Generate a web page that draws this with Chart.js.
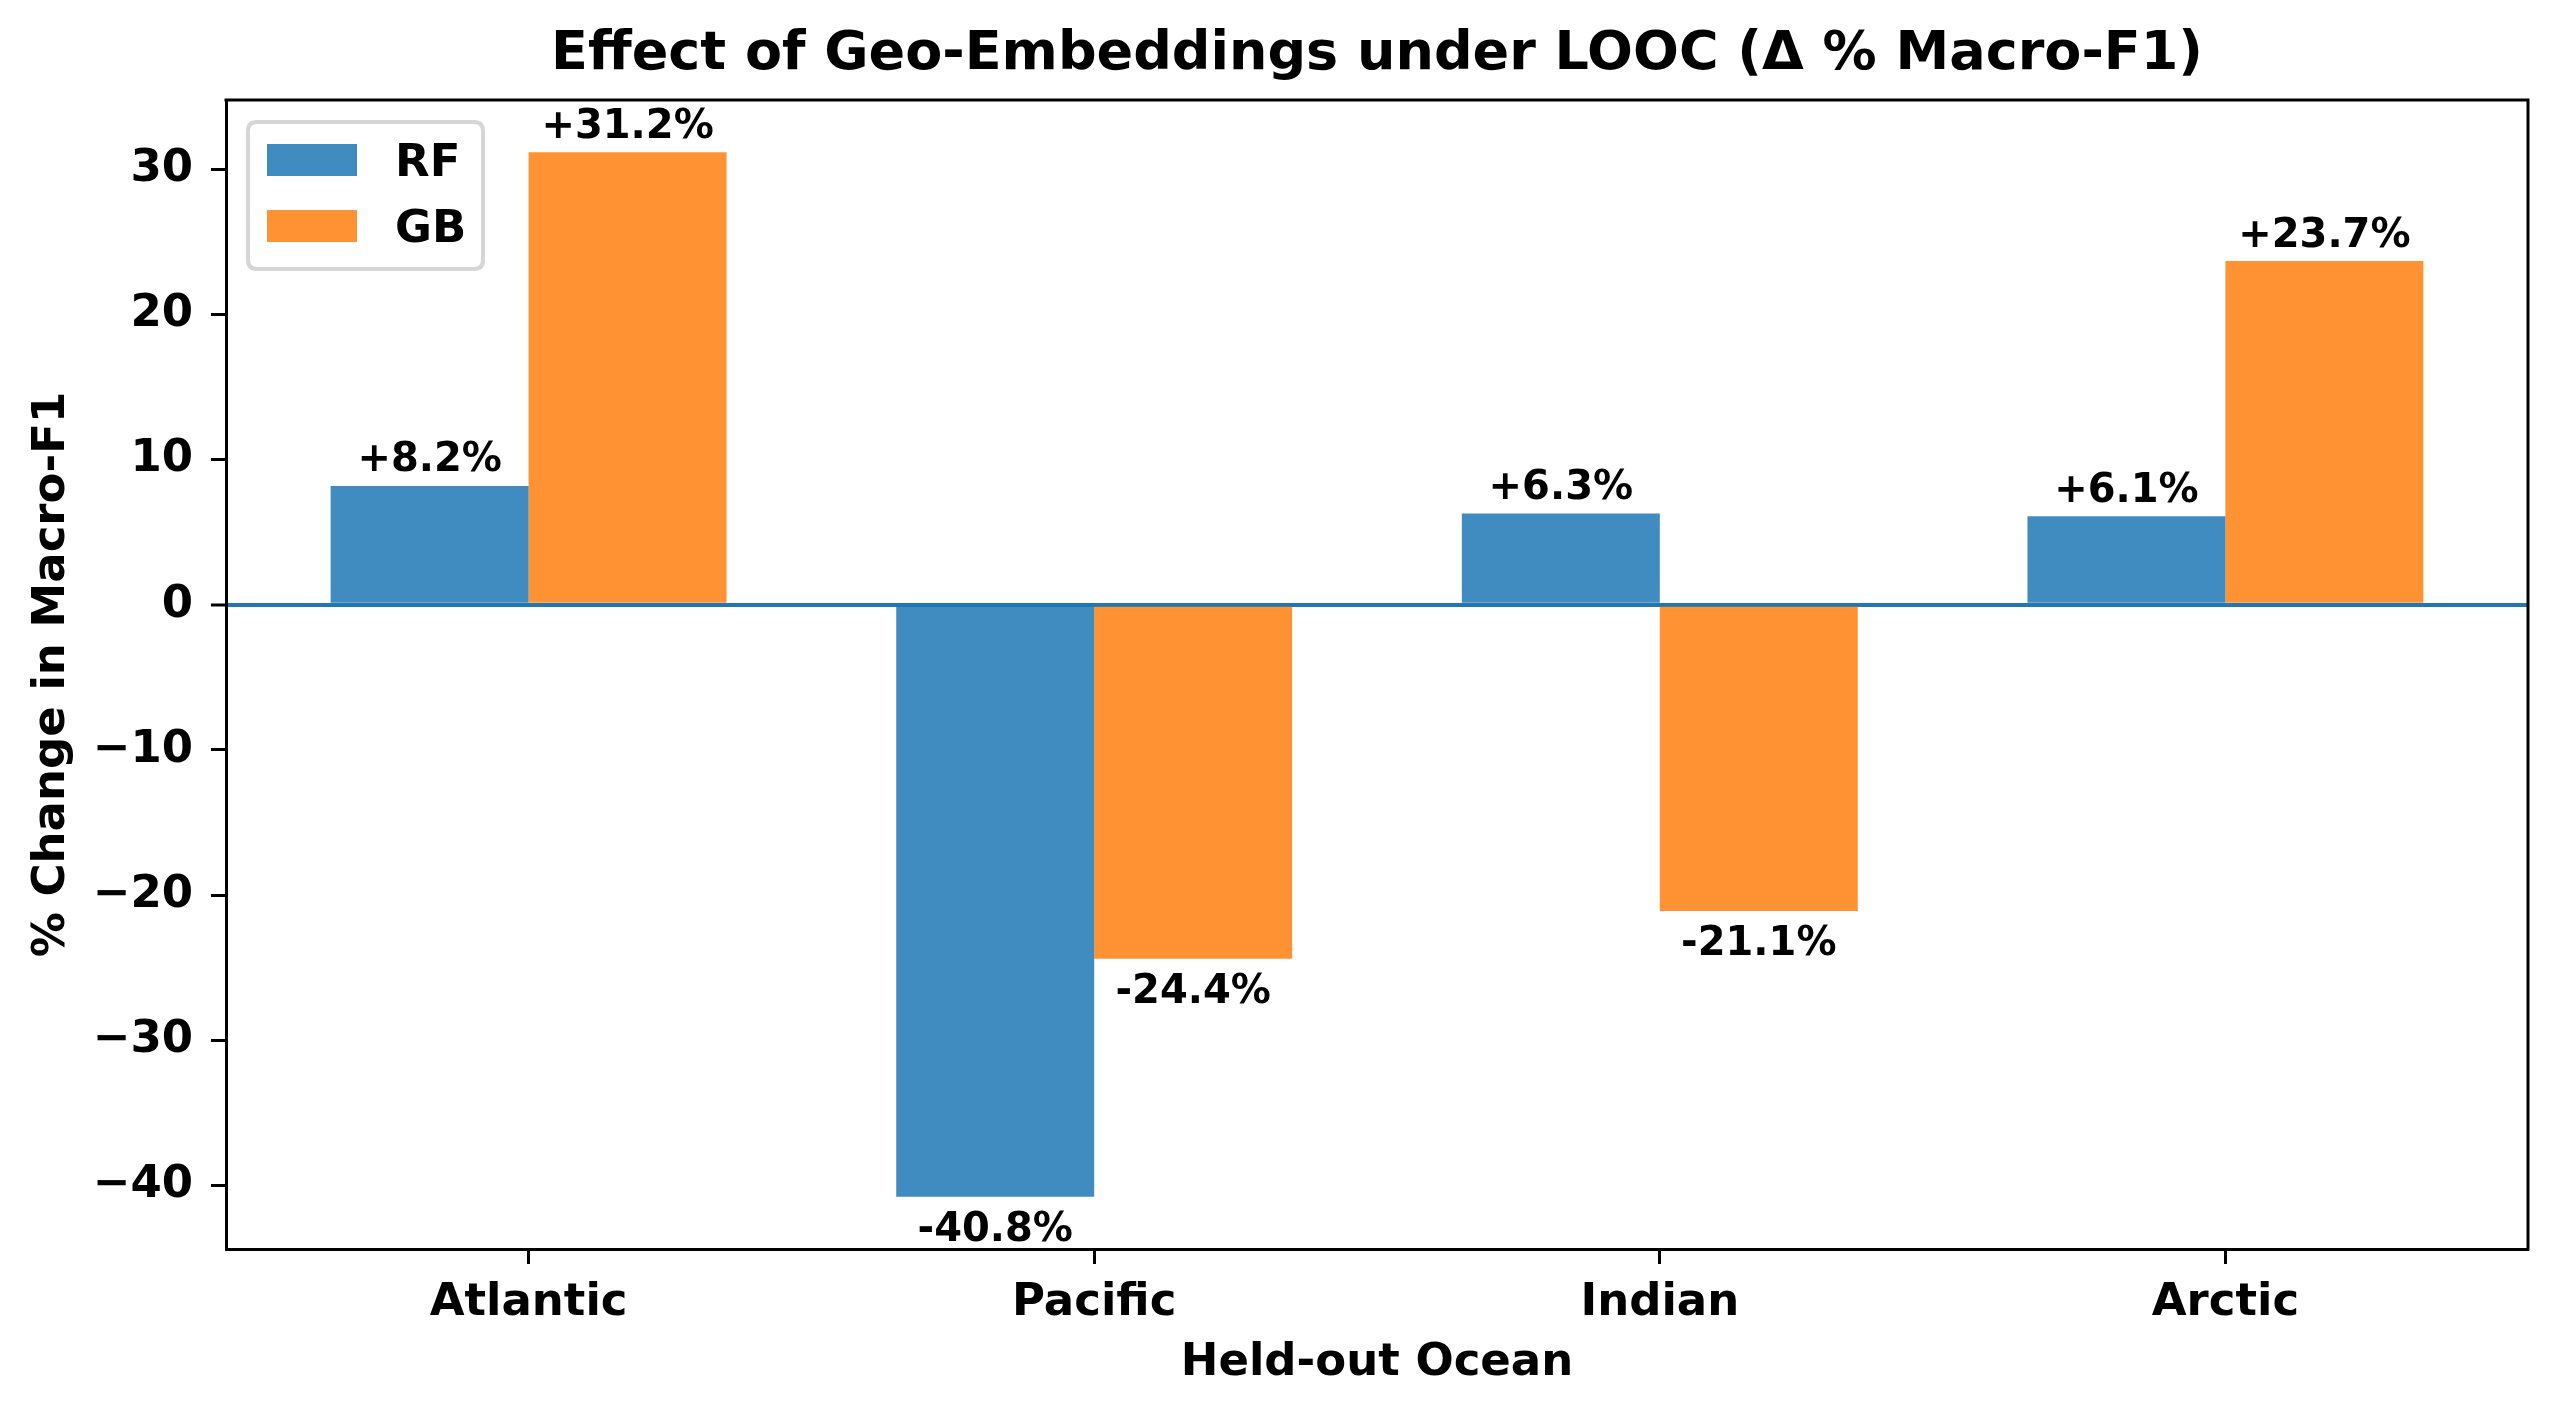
<!DOCTYPE html>
<html>
<head>
<meta charset="utf-8">
<script src="https://cdn.jsdelivr.net/npm/chart.js@4.4.1/dist/chart.umd.min.js"></script>
<style>
  html, body { margin: 0; padding: 0; background: #ffffff; }
  #c { display: block; }
</style>
</head>
<body>
<canvas id="c" width="2560" height="1419" style="width:2560px;height:1419px"></canvas>
<script>
// ---- data ----
const categories = ['Atlantic', 'Pacific', 'Indian', 'Arctic'];
const seriesNames = ['RF', 'GB'];
const rfValues = [8.2, -40.8, 6.3, 6.1];
const gbValues = [31.2, -24.4, -21.1, 23.7];
const yTickValues = [-40, -30, -20, -10, 0, 10, 20, 30];
const titleText = 'Effect of Geo-Embeddings under LOOC (\u0394 % Macro-F1)';
const xTitle = 'Held-out Ocean';
const yTitle = '% Change in Macro-F1';

const FONT = '"DejaVu Sans", "Liberation Sans", sans-serif';
const colors = ['rgba(31,119,180,0.85)', 'rgba(255,127,14,0.85)'];

// matplotlib-like auto-limits (5% margins)
const barW = 0.35;
const xMinData = -barW, xMaxData = categories.length - 1 + barW;
const xPad = (xMaxData - xMinData) * 0.05;
const allVals = rfValues.concat(gbValues, [0]);
const yLo = Math.min(...allVals), yHi = Math.max(...allVals);
const yPad = (yHi - yLo) * 0.05;

function toPoints(vals) { return vals.map((v, i) => ({ x: i, y: v })); }

const valueLabels = {
  id: 'valueLabels',
  afterDatasetsDraw(chart) {
    const ctx = chart.ctx;
    ctx.save();
    ctx.font = 'bold 40px ' + FONT;
    ctx.fillStyle = '#000';
    ctx.textAlign = 'center';
    ctx.textBaseline = 'alphabetic';
    chart.data.datasets.forEach((ds, di) => {
      const meta = chart.getDatasetMeta(di);
      meta.data.forEach((el, i) => {
        const v = ds.data[i].y;
        const txt = (v > 0 ? '+' : '') + v.toFixed(1) + '%';
        const y = v >= 0 ? el.y - 14.5 : el.y + 44;
        ctx.fillText(txt, el.x, y);
      });
    });
    ctx.restore();
  }
};

const frameAndLegend = {
  id: 'frameAndLegend',
  afterDraw(chart) {
    const ctx = chart.ctx;
    const a = chart.chartArea;
    ctx.save();
    // top & right spines
    ctx.strokeStyle = '#000';
    ctx.lineWidth = 3;
    ctx.beginPath();
    ctx.moveTo(a.left - 1.5, a.top);
    ctx.lineTo(a.right, a.top);
    ctx.lineTo(a.right, a.bottom + 1.5);
    ctx.stroke();

    // legend box
    const bx = a.left + 22, by = a.top + 22, bw = 235, bh = 147, r = 9;
    ctx.beginPath();
    ctx.moveTo(bx + r, by);
    ctx.lineTo(bx + bw - r, by);
    ctx.quadraticCurveTo(bx + bw, by, bx + bw, by + r);
    ctx.lineTo(bx + bw, by + bh - r);
    ctx.quadraticCurveTo(bx + bw, by + bh, bx + bw - r, by + bh);
    ctx.lineTo(bx + r, by + bh);
    ctx.quadraticCurveTo(bx, by + bh, bx, by + bh - r);
    ctx.lineTo(bx, by + r);
    ctx.quadraticCurveTo(bx, by, bx + r, by);
    ctx.closePath();
    ctx.fillStyle = 'rgba(255,255,255,0.8)';
    ctx.fill();
    ctx.strokeStyle = '#d6d6d6';
    ctx.lineWidth = 4;
    ctx.stroke();

    ctx.font = 'bold 45px ' + FONT;
    ctx.textAlign = 'left';
    ctx.textBaseline = 'alphabetic';
    chart.data.datasets.forEach((ds, di) => {
      const py = by + 22 + di * 66;
      ctx.fillStyle = ds.backgroundColor;
      ctx.fillRect(bx + 19, py, 90, 32);
      ctx.fillStyle = '#000';
      ctx.fillText(ds.label, bx + 147, py + 16 + 16.4);
    });
    ctx.restore();
  }
};

new Chart(document.getElementById('c'), {
  type: 'bar',
  data: {
    datasets: [
      { label: seriesNames[0], data: toPoints(rfValues), backgroundColor: colors[0], borderWidth: 0 },
      { label: seriesNames[1], data: toPoints(gbValues), backgroundColor: colors[1], borderWidth: 0 }
    ]
  },
  options: {
    responsive: false,
    devicePixelRatio: 1,
    animation: false,
    categoryPercentage: 2 * barW,
    barPercentage: 1.0,
    layout: { padding: { left: 25, right: 32, top: 0, bottom: 29 } },
    plugins: {
      legend: { display: false },
      tooltip: { enabled: false },
      title: {
        display: true,
        text: titleText,
        fullSize: false,
        color: '#000',
        font: { family: FONT, size: 54, weight: 'bold', lineHeight: 1.2 },
        padding: { top: 22.9, bottom: 12.3 }
      }
    },
    scales: {
      x: {
        type: 'linear',
        offset: false,
        min: xMinData - xPad,
        max: xMaxData + xPad,
        afterBuildTicks: (axis) => { axis.ticks = categories.map((c, i) => ({ value: i })); },
        afterFit: (axis) => { axis.height = 141; },
        ticks: {
          color: '#000',
          padding: 12,
          autoSkip: false,
          maxRotation: 0,
          font: { family: FONT, size: 45, weight: 'bold' },
          callback: (v) => categories[v] !== undefined ? categories[v] : ''
        },
        grid: { offset: false, drawOnChartArea: false, drawTicks: true, tickLength: 15, tickColor: '#000', tickWidth: 3 },
        border: { display: true, color: '#000', width: 3 },
        title: {
          display: true, text: xTitle, color: '#000',
          font: { family: FONT, size: 45, weight: 'bold', lineHeight: 1.2 },
          padding: 0
        }
      },
      y: {
        type: 'linear',
        min: yLo - yPad,
        max: yHi + yPad,
        z: 1,
        afterBuildTicks: (axis) => { axis.ticks = yTickValues.map(v => ({ value: v })); },
        afterFit: (axis) => { axis.width = 201; },
        ticks: {
          color: '#000',
          padding: 18,
          font: { family: FONT, size: 45, weight: 'bold' },
          callback: (v) => (v < 0 ? '\u2212' + Math.abs(v) : String(v))
        },
        grid: {
          drawOnChartArea: true,
          drawTicks: true,
          tickLength: 15,
          tickColor: '#000',
          tickWidth: 3,
          color: (c) => (c.tick && c.tick.value === 0 ? '#1f77b4' : 'rgba(0,0,0,0)'),
          lineWidth: (c) => (c.tick && c.tick.value === 0 ? 4 : 1)
        },
        border: { display: true, color: '#000', width: 3 },
        title: {
          display: true, text: yTitle, color: '#000',
          font: { family: FONT, size: 45, weight: 'bold', lineHeight: 1.2 },
          padding: 0
        }
      }
    }
  },
  plugins: [valueLabels, frameAndLegend]
});
</script>
</body>
</html>
